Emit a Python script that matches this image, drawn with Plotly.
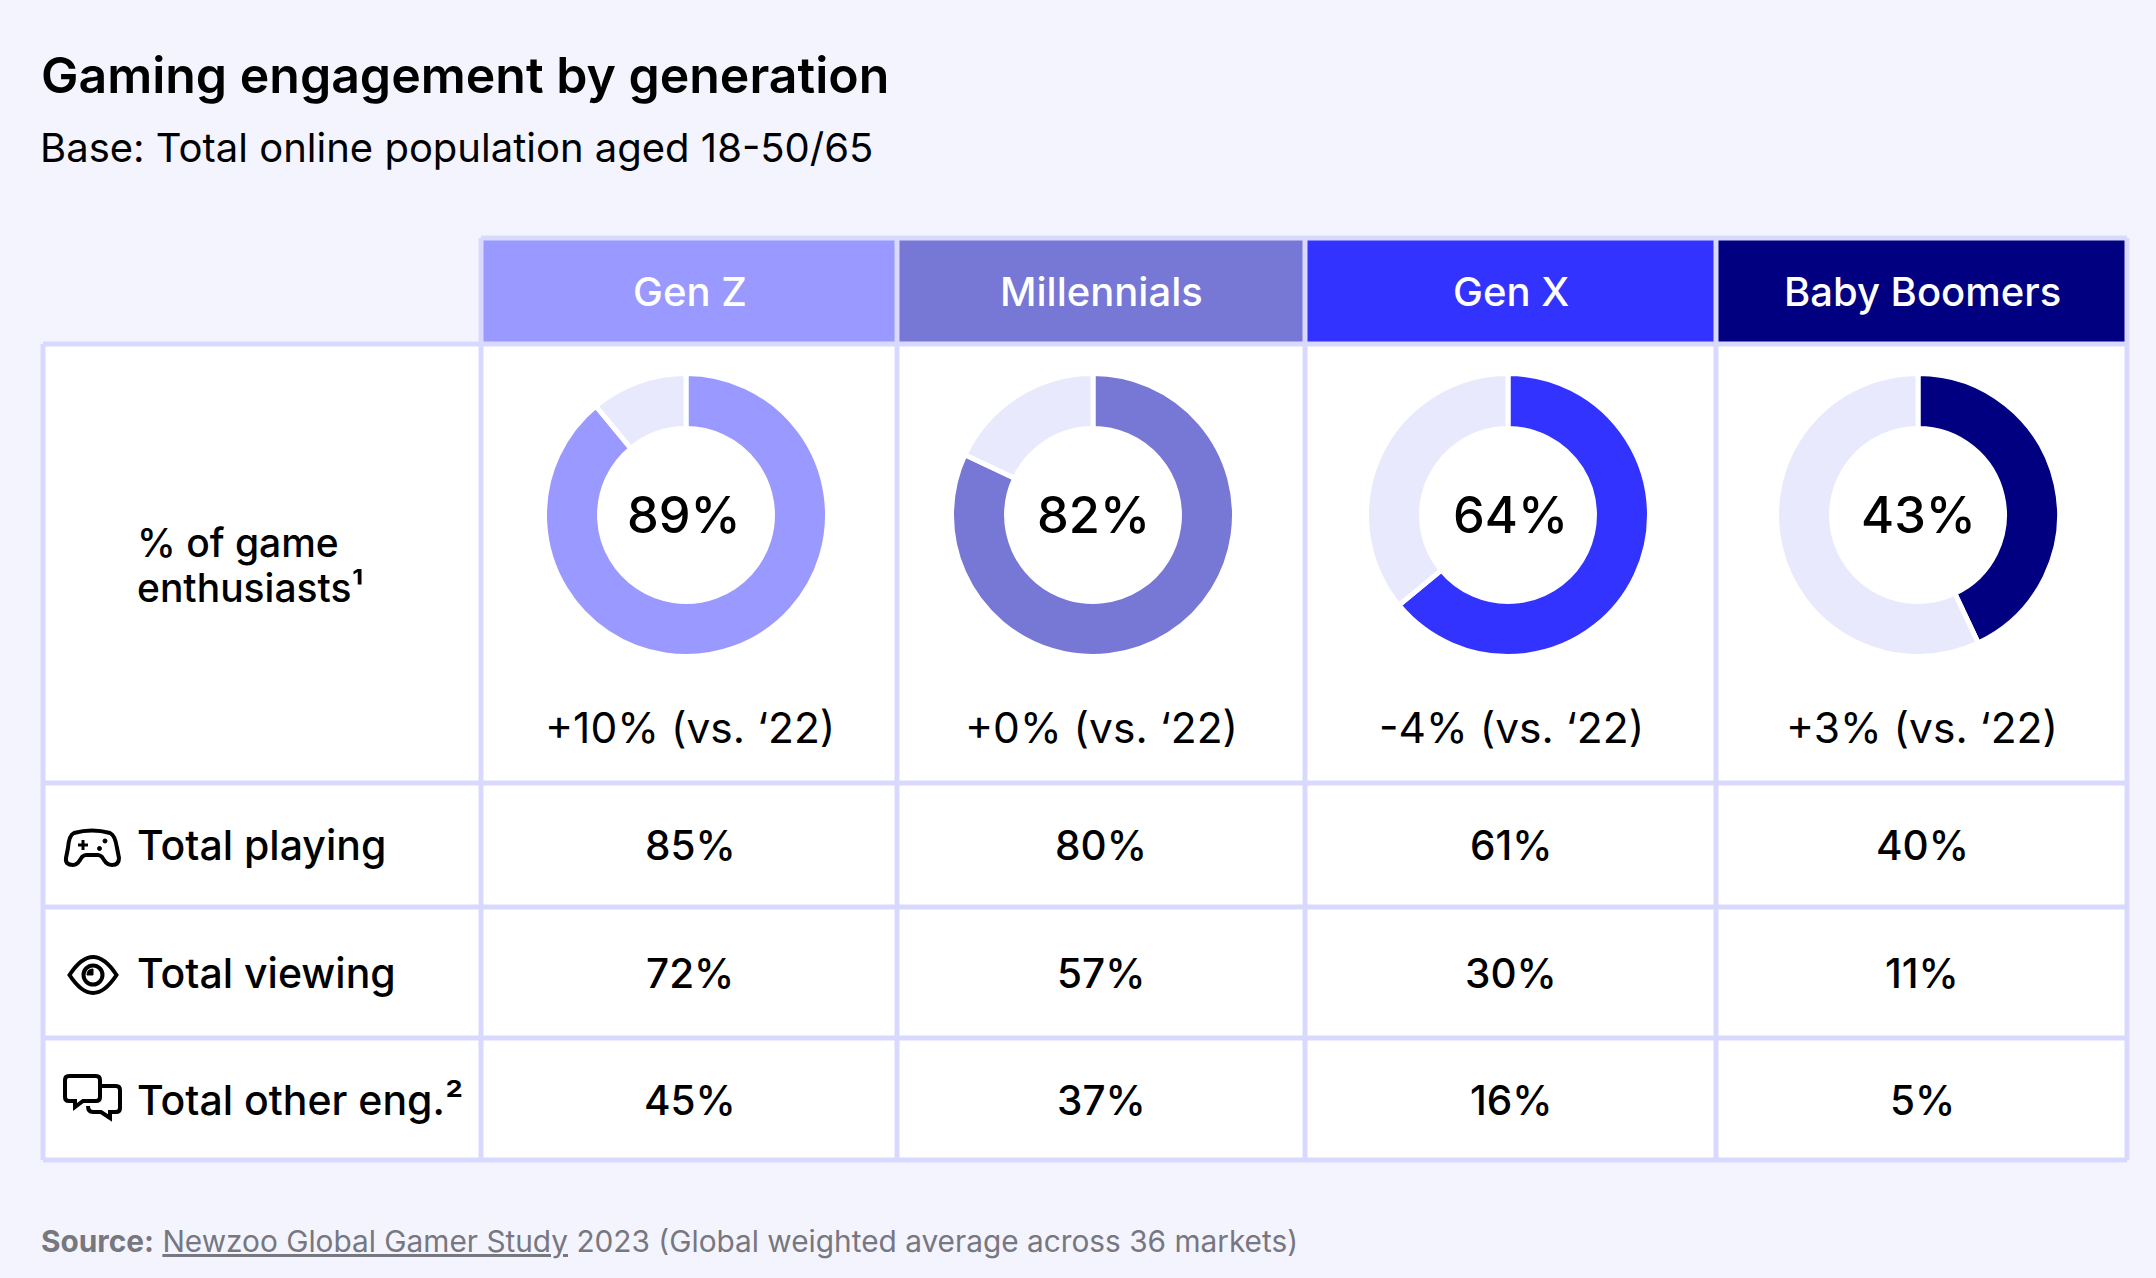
import plotly.graph_objects as go

W, H = 2156, 1278

# data
generations = ['Gen Z', 'Millennials', 'Gen X', 'Baby Boomers']
enthusiasts = [89, 82, 64, 43]
vs_22 = ['+10% (vs. ‘22)', '+0% (vs. ‘22)', '-4% (vs. ‘22)', '+3% (vs. ‘22)']
playing = [85, 80, 61, 40]
viewing = [72, 57, 30, 11]
other_eng = [45, 37, 16, 5]
row_labels = ['Total playing', 'Total viewing', 'Total other eng.²']

# colours
BG = '#F4F4FF'
GRID = '#D9D9FF'
REST = '#E9E9FD'
gen_colors = ['#9999FF', '#7777D5', '#3333FF', '#000080']
FONT = 'Inter'

# table layout in page pixels
col_edges = [43, 481, 897, 1305, 1716, 2127]
row_edges = [238, 344, 783, 907, 1038, 1160]
col_centers = [690, 1101, 1511, 1922]
donut_centers = [686, 1093, 1508, 1918]
donut_labels_x = [684, 1093, 1510, 1918]
row_centers = [845, 973, 1100]


def px(x):
    return x / W


def py(y):
    return 1 - y / H


def svg_path(path):
    # path is written in page pixels, only M L Q Z are used
    out, is_x = [], True
    for tok in path.split():
        if tok.isalpha():
            out.append(tok)
        else:
            out.append(f'{px(float(tok)):.5f}' if is_x else f'{py(float(tok)):.5f}')
            is_x = not is_x
    return ' '.join(out)


def rect(fig, x0, y0, x1, y1, color):
    fig.add_shape(type='rect', xref='paper', yref='paper', x0=px(x0), x1=px(x1), y0=py(y0), y1=py(y1),
                  fillcolor=color, line_width=0, layer='below')


def line(fig, x0, y0, x1, y1):
    fig.add_shape(type='line', xref='paper', yref='paper', x0=px(x0), x1=px(x1), y0=py(y0), y1=py(y1),
                  line=dict(color=GRID, width=5), layer='below')


def icon(fig, path, fill='rgba(0,0,0,0)', width=4):
    fig.add_shape(type='path', xref='paper', yref='paper', path=svg_path(path), fillcolor=fill,
                  line=dict(color='black', width=width), layer='below')


def circle(fig, cx, cy, r, fill='rgba(0,0,0,0)', width=4):
    fig.add_shape(type='circle', xref='paper', yref='paper', x0=px(cx - r), x1=px(cx + r), y0=py(cy + r), y1=py(cy - r),
                  fillcolor=fill, line=dict(color='black', width=width), layer='below')


def text(fig, x, y, s, size, color='black', anchor='center', weight=500):
    fig.add_annotation(x=px(x), y=py(y), xref='paper', yref='paper', text=s, showarrow=False,
                       xanchor=anchor, yanchor='middle', align='left' if anchor == 'left' else 'center',
                       font=dict(family=FONT, size=size, color=color, weight=weight))


fig = go.Figure()

# one donut per generation
r = 141.5
for i, gen in enumerate(generations):
    cx, cy = donut_centers[i], 515
    fig.add_trace(go.Pie(
        values=[enthusiasts[i], 100 - enthusiasts[i]],
        labels=[gen, 'Other'],
        hole=0.611,
        sort=False,
        direction='clockwise',
        rotation=0,
        textinfo='none',
        marker=dict(colors=[gen_colors[i], REST], line=dict(color='white', width=5)),
        domain=dict(x=[px(cx - r), px(cx + r)], y=[py(cy + r), py(cy - r)]),
        showlegend=False,
    ))

# table body and headers
rect(fig, col_edges[0], row_edges[1], col_edges[-1], row_edges[-1], 'white')
for i, gen in enumerate(generations):
    rect(fig, col_edges[i + 1], row_edges[0], col_edges[i + 2], row_edges[1], gen_colors[i])
    text(fig, col_centers[i], 291, gen, 40, color='white')

# grid lines
for x in col_edges[1:]:
    line(fig, x, row_edges[0], x, row_edges[-1])
line(fig, col_edges[0], row_edges[1], col_edges[0], row_edges[-1])
line(fig, col_edges[1], row_edges[0], col_edges[-1], row_edges[0])
for y in row_edges[1:]:
    line(fig, col_edges[0], y, col_edges[-1], y)

# title block
text(fig, 39, 75, 'Gaming engagement by generation', 50, anchor='left', weight=600)
text(fig, 38, 147, 'Base: Total online population aged 18-50/65', 40, anchor='left', weight=400)

# first column
text(fig, 135, 542, '% of game', 39, anchor='left')
text(fig, 135, 587, 'enthusiasts¹', 39, anchor='left')
for label, y in zip(row_labels, row_centers):
    text(fig, 135, y, label, 41, anchor='left')

# values
for i in range(4):
    text(fig, donut_labels_x[i], 515, f'{enthusiasts[i]}%', 50.5)
    text(fig, col_centers[i], 727, vs_22[i], 42.5, weight=400)
    text(fig, col_centers[i], row_centers[0], f'{playing[i]}%', 40.5)
    text(fig, col_centers[i], row_centers[1], f'{viewing[i]}%', 40.5)
    text(fig, col_centers[i], row_centers[2], f'{other_eng[i]}%', 40.5)

# icons
icon(fig, 'M 74 833 Q 92 828 110 833 Q 115 835 117 848 L 119 858 Q 119 865 112 865 Q 107 865 104 860 '
          'L 102 857 Q 100 855 98 855 L 86 855 Q 84 855 82 857 L 80 860 Q 77 865 73 865 Q 65 865 66 858 '
          'L 68 848 Q 69 835 74 833 Z')
icon(fig, 'M 78 845 L 88 845', width=3)
icon(fig, 'M 83 840 L 83 850', width=3)
circle(fig, 105, 841, 2, fill='black', width=1)
circle(fig, 99.5, 848.5, 2, fill='black', width=1)
icon(fig, 'M 69.5 975 Q 93 939 116.5 975 Q 93 1011 69.5 975 Z')
circle(fig, 93, 975, 9.5)
icon(fig, 'M 87 975 Q 87 969 93 969 L 93 975 Z', fill='black', width=1)
icon(fig, 'M 69 1076 L 96 1076 Q 100 1076 100 1080 L 100 1097 Q 100 1101 96 1101 L 83 1101 L 75 1107 '
          'L 75 1101 L 69 1101 Q 65 1101 65 1097 L 65 1080 Q 65 1076 69 1076 Z')
icon(fig, 'M 102 1086 L 116 1086 Q 120 1086 120 1090 L 120 1108 Q 120 1112 116 1112 L 110 1112 L 110 1118 '
          'L 101 1112 L 93 1112 Q 88 1112 88 1106')

# source line
text(fig, 39, 1241, '<b>Source:</b> <u>Newzoo Global Gamer Study</u> 2023 (Global weighted average across 36 markets)',
     29.8, color='#77777F', anchor='left', weight=400)

fig.update_layout(
    width=W,
    height=H,
    margin=dict(l=0, r=0, t=0, b=0),
    paper_bgcolor=BG,
    plot_bgcolor=BG,
    showlegend=False,
)

fig.write_html('out.html', config=dict(displayModeBar=False), post_script="document.body.style.margin='0';")
